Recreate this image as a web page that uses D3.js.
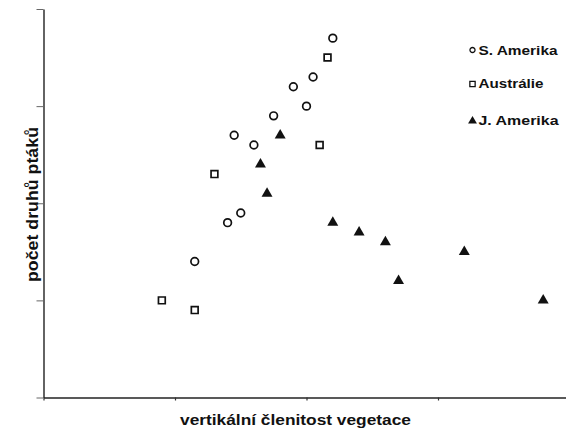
<!DOCTYPE html>
<html><head><meta charset="utf-8">
<script src="https://cdn.jsdelivr.net/npm/d3@7"></script>
<style>html,body{margin:0;padding:0;background:#fff;}svg{display:block;}</style>
</head><body>
<svg id="chart" width="566" height="431"></svg>
<script>
// Data (units of the unlabeled axes, 0..4)
const sAmerikaX = [2.2, 2.05, 1.9, 2.0, 1.75, 1.45, 1.6, 1.5, 1.4, 1.15];
const sAmerikaY = [3.7, 3.3, 3.2, 3.0, 2.9, 2.7, 2.6, 1.9, 1.8, 1.4];
const australieX = [2.16, 2.1, 1.3, 0.9, 1.15];
const australieY = [3.5, 2.6, 2.3, 1.0, 0.9];
const jAmerikaX = [1.8, 1.65, 1.7, 2.2, 2.4, 2.6, 3.2, 2.7, 3.8];
const jAmerikaY = [2.7, 2.4, 2.1, 1.8, 1.7, 1.6, 1.5, 1.2, 1.0];
const xTicks = [0, 1, 2, 3, 4];
const yTicks = [0, 1, 2, 3, 4];
const seriesNames = ["S. Amerika", "Austrálie", "J. Amerika"];
const xTitle = "vertikální členitost vegetace";
const yTitle = "počet druhů ptáků";

const svg = d3.select("#chart");
const font = "'Liberation Sans', Arial, Helvetica, sans-serif";
const x = d3.scaleLinear().domain([0, 4]).range([43.5, 569.5]);
const y = d3.scaleLinear().domain([0, 4]).range([397.5, 9]);

// axes
const xAxis = d3.axisBottom(x).tickValues(xTicks).tickSize(3).tickSizeOuter(0).tickFormat(() => "");
const yAxis = d3.axisLeft(y).tickValues(yTicks).tickSize(7).tickSizeOuter(0).tickFormat(() => "");
const gx = svg.append("g").attr("transform", `translate(0,${y(0)})`).call(xAxis);
const gy = svg.append("g").attr("transform", `translate(${x(0)},0)`).call(yAxis);
gx.select(".domain").attr("stroke", "#222").attr("stroke-width", 1.4);
gy.select(".domain").attr("stroke", "#222").attr("stroke-width", 1.4);
gx.selectAll(".tick line").attr("stroke", "#333").attr("stroke-width", 1.2);
gy.selectAll(".tick line").attr("stroke", "#666").attr("stroke-width", 1);

// series
const series = [
  {xs: sAmerikaX, ys: sAmerikaY, type: d3.symbolCircle, size: 46, fill: "#fff", stroke: "#111"},
  {xs: australieX, ys: australieY, type: d3.symbolSquare, size: 46, fill: "#fff", stroke: "#111"},
  {xs: jAmerikaX, ys: jAmerikaY, type: d3.symbolTriangle, size: 52, fill: "#111", stroke: "none"}
];
series.forEach(s => {
  const pts = s.xs.map((v, i) => [v, s.ys[i]]);
  svg.append("g").selectAll("path").data(pts).join("path")
    .attr("transform", d => `translate(${x(d[0])},${y(d[1])})`)
    .attr("d", d3.symbol().type(s.type).size(s.size))
    .attr("fill", s.fill).attr("stroke", s.stroke).attr("stroke-width", 1.7);
});

// legend
const legY = [50, 84, 121];
const legBase = [54.5, 87.5, 125];
const legLen = [79, 65, 80];
const legSizes = [20, 28, 34];
series.forEach((s, i) => {
  svg.append("path").attr("transform", `translate(472.5,${legY[i]})`)
    .attr("d", d3.symbol().type(s.type).size(legSizes[i]))
    .attr("fill", s.fill).attr("stroke", s.stroke).attr("stroke-width", 1.3);
  svg.append("text").attr("x", 478.5).attr("y", legBase[i])
    .attr("font-family", font).attr("font-weight", "bold").attr("font-size", 12.5)
    .attr("textLength", legLen[i]).attr("lengthAdjust", "spacingAndGlyphs")
    .attr("fill", "#111").text(seriesNames[i]);
});

// axis titles
svg.append("text").attr("x", 180).attr("y", 424.5)
  .attr("font-family", font).attr("font-weight", "bold").attr("font-size", 14)
  .attr("textLength", 231).attr("lengthAdjust", "spacingAndGlyphs")
  .attr("fill", "#111").text(xTitle);
svg.append("text").attr("transform", "translate(38,282) rotate(-90)")
  .attr("font-family", font).attr("font-weight", "bold").attr("font-size", 17)
  .attr("textLength", 155).attr("lengthAdjust", "spacingAndGlyphs")
  .attr("fill", "#111").text(yTitle);
</script>
</body></html>
